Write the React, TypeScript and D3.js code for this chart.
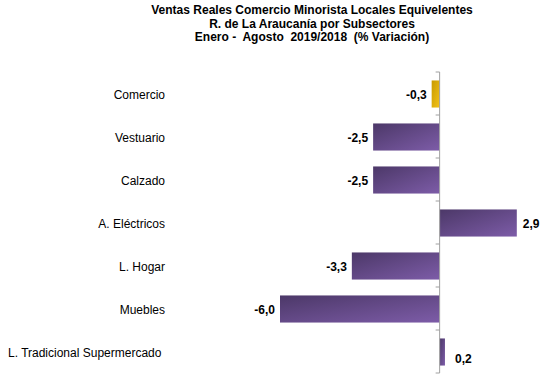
import React, { useEffect, useRef } from "react";
import * as d3 from "d3";

const categories = [
  "Comercio",
  "Vestuario",
  "Calzado",
  "A. Eléctricos",
  "L. Hogar",
  "Muebles",
  "L. Tradicional Supermercado",
];
const values = [-0.3, -2.5, -2.5, 2.9, -3.3, -6.0, 0.2];
const highlight = ["Comercio"];
const titleLines = [
  "Ventas Reales Comercio Minorista Locales Equivelentes",
  "R. de La Araucanía por Subsectores",
  "Enero -  Agosto  2019/2018  (% Variación)",
];

export default function App() {
  const ref = useRef<SVGSVGElement>(null);
  useEffect(() => {
    const svg = d3.select(ref.current);
    svg.selectAll("*").remove();
    const font = "'Liberation Sans', Arial, sans-serif";

    const defs = svg.append("defs");
    const gp = defs.append("linearGradient").attr("id", "gp")
      .attr("x1", "0").attr("y1", "0").attr("x2", "1").attr("y2", "1");
    gp.append("stop").attr("offset", "0%").attr("stop-color", "#4c3868");
    gp.append("stop").attr("offset", "100%").attr("stop-color", "#7d5ca8");
    const gg = defs.append("linearGradient").attr("id", "gg")
      .attr("x1", "0").attr("y1", "0").attr("x2", "1").attr("y2", "1");
    gg.append("stop").attr("offset", "0%").attr("stop-color", "#c89a00");
    gg.append("stop").attr("offset", "100%").attr("stop-color", "#f2c21a");

    svg.append("g").selectAll("text").data(titleLines).join("text")
      .attr("x", 312)
      .attr("y", (_, i) => 14 + i * 13.7)
      .attr("text-anchor", "middle")
      .attr("font-family", font)
      .attr("font-weight", "bold")
      .attr("font-size", 12)
      .attr("fill", "#000")
      .style("white-space", "pre")
      .text((d) => d);

    const x = d3.scaleLinear().domain([-6, 2.9]).range([280, 516.8]);
    const y = d3.scaleBand().domain(categories).range([72, 373]).paddingInner(0.37).paddingOuter(0.185);
    const yb = d3.scaleBand().domain(categories).range([72, 373]);

    const g = svg.append("g");
    g.selectAll("rect").data(categories).join("rect")
      .attr("x", (d, i) => x(Math.min(0, values[i])))
      .attr("y", (d) => y(d)! + 0.5)
      .attr("width", (d, i) => Math.abs(x(values[i]) - x(0)))
      .attr("height", y.bandwidth())
      .attr("fill", (d) => (highlight.includes(d) ? "url(#gg)" : "url(#gp)"));

    // axis
    const x0 = x(0);
    g.append("line").attr("x1", x0).attr("x2", x0).attr("y1", 72).attr("y2", 373)
      .attr("stroke", "#a0a0a0").attr("stroke-width", 1);
    const ticks = categories.map((c) => yb(c)!).concat([373]);
    g.selectAll("line.tick").data(ticks).join("line").attr("class", "tick")
      .attr("x1", x0 - 4).attr("x2", x0).attr("y1", (d) => d).attr("y2", (d) => d)
      .attr("stroke", "#a0a0a0").attr("stroke-width", 1);

    // value labels
    g.selectAll("text.val").data(categories).join("text").attr("class", "val")
      .attr("x", (d, i) => (values[i] < 0 ? x(values[i]) - 5 : x(values[i]) + 6 + (values[i] < 1 ? 4 : 0)))
      .attr("y", (d) => yb(d)! + yb.bandwidth() / 2 + (d === categories[categories.length - 1] ? 11 : 5.5))
      .attr("text-anchor", (d, i) => (values[i] < 0 ? "end" : "start"))
      .attr("font-family", font)
      .attr("font-weight", "bold")
      .attr("font-size", 12)
      .attr("fill", "#000")
      .text((d, i) => d3.format(".1f")(values[i]).replace(".", ",").replace("−", "-"));

    // category labels
    const labels = g.selectAll("text.cat").data(categories).join("text").attr("class", "cat")
      .attr("x", 165)
      .attr("y", (d) => yb(d)! + yb.bandwidth() / 2 + 5.5)
      .attr("text-anchor", "end")
      .attr("font-family", font)
      .attr("font-size", 12)
      .attr("fill", "#000")
      .text((d) => d);
    labels.each(function () {
      const el = this as SVGTextElement;
      const w = el.getComputedTextLength();
      if (w > 130) d3.select(el).attr("text-anchor", "start").attr("x", 8);
    });
  }, []);
  return <svg ref={ref} width={548} height={382} style={{ display: "block", position: "absolute", left: 0, top: 0 }} />;
}
